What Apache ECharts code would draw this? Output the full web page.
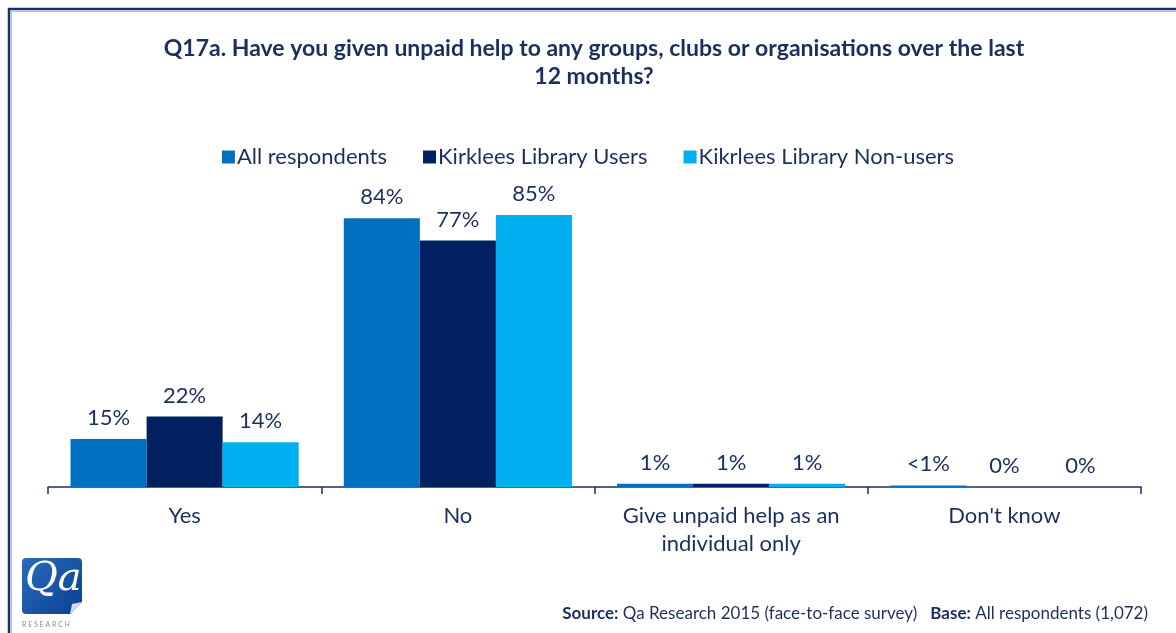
<!DOCTYPE html>
<html>
<head>
<meta charset="utf-8">
<style>
  html, body { margin: 0; padding: 0; background: #ffffff; }
  #chart { width: 1176px; height: 633px; }
</style>
<script src="https://cdn.jsdelivr.net/npm/echarts@6/dist/echarts.min.js"></script>
</head>
<body>
<div id="chart"></div>
<script>
// Survey answers to Q17a, in percent
const categories = ['Yes', 'No', 'Give unpaid help as an\nindividual only', "Don't know"];
const seriesNames = ['All respondents', 'Kirklees Library Users', 'Kikrlees Library Non-users'];
const allRespondents = [15, 84, 1, 0.5];
const libraryUsers = [22, 77, 1, 0];
const libraryNonUsers = [14, 85, 1, 0];
const allLabels = ['15%', '84%', '1%', '<1%'];
const userLabels = ['22%', '77%', '1%', '0%'];
const nonUserLabels = ['14%', '85%', '1%', '0%'];

const NAVY = '#1b2f5e';
const colors = ['#0070c0', '#002060', '#00b0f0'];
const FONT = 'Lato, "Open Sans", sans-serif';

function barSeries(name, values, labels, color) {
  return {
    name: name,
    type: 'bar',
    data: values,
    itemStyle: { color: color },
    barGap: '0%',
    barCategoryGap: '16.5%',
    label: {
      show: true,
      position: 'top',
      distance: 10,
      color: NAVY,
      fontFamily: FONT,
      fontSize: 22,
      formatter: p => labels[p.dataIndex]
    }
  };
}

const chart = echarts.init(document.getElementById('chart'), null, { renderer: 'canvas' });
chart.setOption({
  animation: false,
  color: colors,
  title: {
    text: 'Q17a. Have you given unpaid help to any groups, clubs or organisations over the last\n12 months?',
    left: 589,
    top: 30,
    textAlign: 'center',
    textStyle: { fontFamily: FONT, fontSize: 23, fontWeight: 'bold', color: NAVY, lineHeight: 28 }
  },
  legend: {
    data: seriesNames,
    left: 'center',
    top: 141,
    itemWidth: 13,
    itemHeight: 13,
    itemGap: 36,
    icon: 'rect',
    textStyle: { fontFamily: FONT, fontSize: 22, color: NAVY, padding: [0, 0, 0, -3] }
  },
  grid: { left: 48, right: 35, top: 167, bottom: 146 },
  xAxis: {
    type: 'category',
    data: categories,
    axisLine: { lineStyle: { color: NAVY, width: 1.5 } },
    axisTick: { show: true, interval: 0, length: 7, lineStyle: { color: NAVY, width: 1.5 } },
    axisLabel: { interval: 0, color: NAVY, fontFamily: FONT, fontSize: 22, margin: 15, lineHeight: 28 }
  },
  yAxis: {
    type: 'value',
    min: 0,
    max: 100,
    show: false
  },
  series: [
    barSeries(seriesNames[0], allRespondents, allLabels, colors[0]),
    barSeries(seriesNames[1], libraryUsers, userLabels, colors[1]),
    barSeries(seriesNames[2], libraryNonUsers, nonUserLabels, colors[2])
  ],
  graphic: [
    // page frame
    { type: 'rect', shape: { x: 9, y: 9, width: 1200, height: 700 },
      style: { fill: 'none', stroke: '#17326a', lineWidth: 2.5 } },
    { type: 'rect', shape: { x: 11.5, y: 11.5, width: 1200, height: 700 },
      style: { fill: 'none', stroke: '#a9bde0', lineWidth: 1 } },
    // footer
    { type: 'text', right: 28, top: 605,
      style: {
        text: '{b|Source:} Qa Research 2015 (face-to-face survey)   {b|Base:} All respondents (1,072)',
        fontFamily: FONT, fontSize: 17, fill: NAVY,
        rich: { b: { fontWeight: 'bold', fontFamily: FONT, fontSize: 17, fill: NAVY } }
      } },
    // logo
    { type: 'rect', shape: { x: 22, y: 558, width: 60, height: 56, r: 4 },
      style: { fill: new echarts.graphic.LinearGradient(0, 0, 1, 1, [
        { offset: 0, color: '#2a6cc0' }, { offset: 1, color: '#0b3f8f' }]) } },
    { type: 'polygon', shape: { points: [[70, 614], [82, 602], [82, 614]] },
      style: { fill: '#ffffff' } },
    { type: 'polygon', shape: { points: [[70, 614], [82, 602], [72, 604]] },
      style: { fill: '#d7dbe3' } },
    { type: 'text', x: 25, y: 560,
      style: { text: 'Qa', fontFamily: '"DejaVu Serif", serif', fontStyle: 'italic', fontSize: 40, fill: '#ffffff' } },
    { type: 'text', x: 22, y: 621,
      style: { text: 'R E S E A R C H', fontFamily: FONT, fontSize: 7, fill: '#8a8f98' } }
  ]
});
</script>
</body>
</html>
